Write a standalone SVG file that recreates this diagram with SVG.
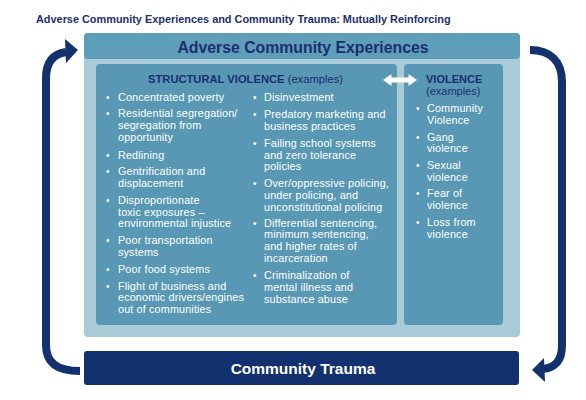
<svg xmlns="http://www.w3.org/2000/svg" width="586" height="400" viewBox="0 0 586 400">
<defs>
<style>
.t{font-family:"Liberation Sans",Arial,sans-serif;}
.navy{fill:#1b2f6e;}
.w{fill:#ffffff;}
.li{font-family:"Liberation Sans",Arial,sans-serif;font-size:10.8px;letter-spacing:0.15px;fill:#ffffff;}
.bul{font-family:"Liberation Sans",Arial,sans-serif;font-size:10px;fill:#ffffff;}
.arr{fill:none;stroke:#13306f;stroke-width:8;}
</style>
</defs>
<rect width="586" height="400" fill="#ffffff"/>
<text class="t navy" x="36" y="23" font-size="10.9" font-weight="bold">Adverse Community Experiences and Community Trauma: Mutually Reinforcing</text>

<g id="ace">
<rect x="84" y="33" width="436" height="304" rx="4" fill="#a9cbd8"/>
<rect x="84" y="33" width="436" height="26" rx="4" fill="#5f9eb9"/>
<text class="t navy" x="303" y="52.5" font-size="15.8" font-weight="bold" text-anchor="middle">Adverse Community Experiences</text>
</g>

<g id="structural">
<rect x="96" y="64" width="301" height="261" rx="4" fill="#5898b4"/>
<text class="t" x="148" y="83" font-size="11.2"><tspan font-weight="bold" fill="#1b2f6e">STRUCTURAL VIOLENCE</tspan><tspan fill="#1b2f6e"> (examples)</tspan></text>
<g class="bul">
<text x="106" y="101">•</text><text x="106" y="117">•</text><text x="106" y="159">•</text><text x="106" y="175">•</text><text x="106" y="204">•</text><text x="106" y="244">•</text><text x="106" y="273">•</text><text x="106" y="290">•</text>
<text x="253" y="101">•</text><text x="253" y="118">•</text><text x="253" y="147">•</text><text x="253" y="187">•</text><text x="253" y="227">•</text><text x="253" y="279">•</text>
</g>
<g class="li">
<text x="118" y="101">Concentrated poverty</text>
<text x="118" y="117">Residential segregation/</text>
<text x="118" y="129">segregation from</text>
<text x="118" y="141">opportunity</text>
<text x="118" y="159">Redlining</text>
<text x="118" y="175">Gentrification and</text>
<text x="118" y="187">displacement</text>
<text x="118" y="204">Disproportionate</text>
<text x="118" y="216">toxic exposures –</text>
<text x="118" y="227">environmental injustice</text>
<text x="118" y="244">Poor transportation</text>
<text x="118" y="256">systems</text>
<text x="118" y="273">Poor food systems</text>
<text x="118" y="290">Flight of business and</text>
<text x="118" y="301">economic drivers/engines</text>
<text x="118" y="313">out of communities</text>
<text x="264" y="101">Disinvestment</text>
<text x="264" y="118">Predatory marketing and</text>
<text x="264" y="130">business practices</text>
<text x="264" y="147">Failing school systems</text>
<text x="264" y="159">and zero tolerance</text>
<text x="264" y="170">policies</text>
<text x="264" y="187">Over/oppressive policing,</text>
<text x="264" y="199">under policing, and</text>
<text x="264" y="211">unconstitutional policing</text>
<text x="264" y="227">Differential sentencing,</text>
<text x="264" y="238">minimum sentencing,</text>
<text x="264" y="250">and higher rates of</text>
<text x="264" y="262">incarceration</text>
<text x="264" y="279">Criminalization of</text>
<text x="264" y="291">mental illness and</text>
<text x="264" y="303">substance abuse</text>
</g>
</g>

<g id="violence">
<rect x="404" y="64" width="99" height="261" rx="4" fill="#5898b4"/>
<text class="t navy" x="426" y="83" font-size="11" font-weight="bold">VIOLENCE</text>
<text class="t navy" x="426" y="95" font-size="11">(examples)</text>
<g class="bul">
<text x="416" y="112">•</text><text x="416" y="141">•</text><text x="416" y="169">•</text><text x="416" y="197">•</text><text x="416" y="226">•</text>
</g>
<g class="li">
<text x="427" y="112">Community</text>
<text x="427" y="124">Violence</text>
<text x="427" y="141">Gang</text>
<text x="427" y="152">violence</text>
<text x="427" y="169">Sexual</text>
<text x="427" y="181">violence</text>
<text x="427" y="197">Fear of</text>
<text x="427" y="209">violence</text>
<text x="427" y="226">Loss from</text>
<text x="427" y="238">violence</text>
</g>
</g>

<g id="trauma">
<rect x="84" y="351" width="435" height="34" rx="3" fill="#13306f"/>
<text class="t w" x="303" y="374" font-size="15.5" font-weight="bold" text-anchor="middle">Community Trauma</text>
</g>

<g id="connectors">
<path d="M383 80 L391.5 74 L391.5 77.5 L408.5 77.5 L408.5 74 L417 80 L408.5 86 L408.5 82.5 L391.5 82.5 L391.5 86 Z" fill="#ffffff"/>
<path class="arr" d="M80 371 C56 371 46 362 46 345 L46 78 C46 62 53 54 66 52"/>
<path d="M65 39 L78 50 L66 63 Z" fill="#13306f"/>
<path class="arr" d="M530 50 C551 50 562 62 562 82 L562 345 C562 361 555 368 542 369"/>
<path d="M532 370 L544 358 L545 382 Z" fill="#13306f"/>
</g>
</svg>
